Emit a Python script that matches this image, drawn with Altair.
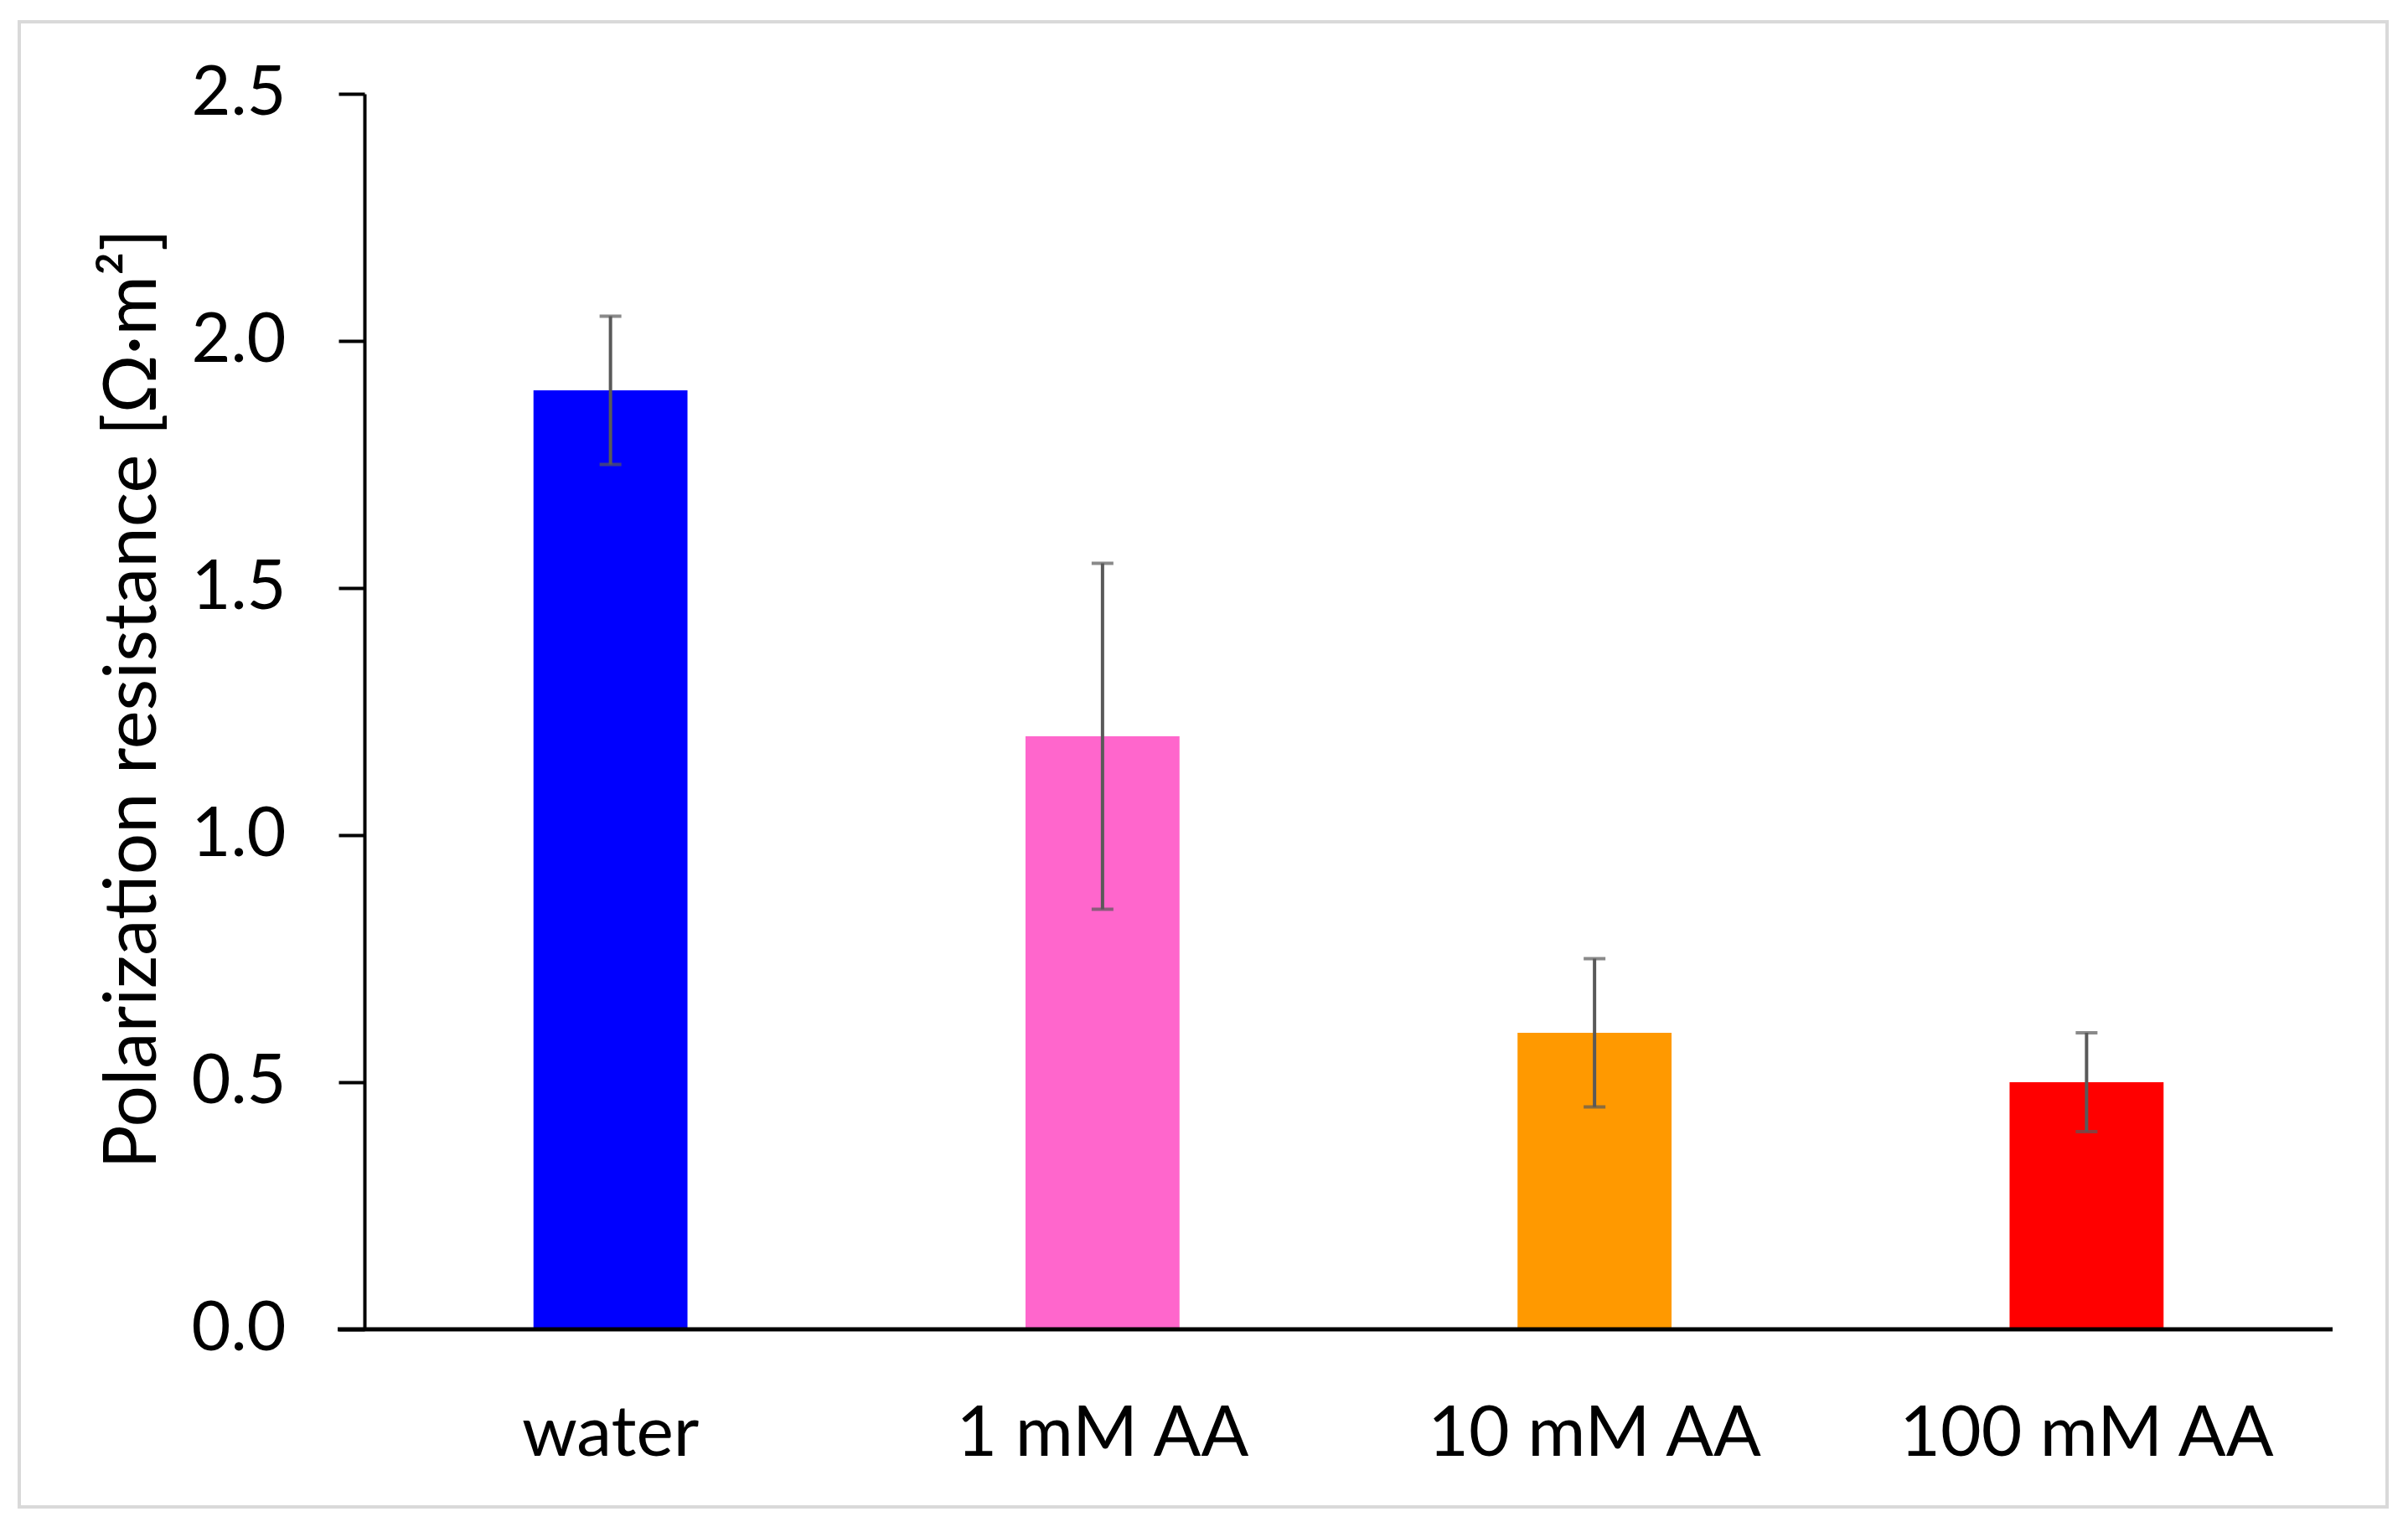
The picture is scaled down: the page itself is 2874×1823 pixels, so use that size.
import altair as alt
import pandas as pd

categories = ["water", "1 mM AA", "10 mM AA", "100 mM AA"]
resistance = [1.90, 1.20, 0.60, 0.50]
err_low = [1.75, 0.85, 0.45, 0.40]
err_high = [2.05, 1.55, 0.75, 0.60]
bar_colors = ["#0000FF", "#FF66CC", "#FF9900", "#FF0000"]
y_ticks = [0.0, 0.5, 1.0, 1.5, 2.0, 2.5]

df = pd.DataFrame({
    "cat": categories,
    "value": resistance,
    "low": err_low,
    "high": err_high,
})

W = 2349
H = 1475
FONT = "Lato"

x_enc = alt.X(
    "cat:N",
    sort=categories,
    scale=alt.Scale(paddingInner=0.687, paddingOuter=0.3435),
    axis=alt.Axis(
        title=None, ticks=False, tickSize=0, domain=False,
        labelAngle=0, labelFont=FONT, labelFontSize=84, labelColor="black",
        labelBaseline="alphabetic", labelPadding=150, labelLimit=0,
    ),
)

y_scale = alt.Scale(domain=[0, 2.5], nice=False)

bars = alt.Chart(df).mark_bar().encode(
    x=x_enc,
    y=alt.Y(
        "value:Q",
        scale=y_scale,
        axis=alt.Axis(
            title="Polarization resistance [Ω·m²]",
            values=y_ticks, format=".1f", grid=False,
            domainColor="black", domainWidth=4,
            tickColor="black", tickWidth=4, tickSize=31,
            labelFont=FONT, labelFontSize=81, labelColor="black",
            labelPadding=63, labelBaseline="middle",
            titleFont=FONT, titleFontSize=87, titleFontWeight="normal",
            titleColor="black", titleX=-250, titleY=722,
            titleBaseline="alphabetic", titleAlign="center", titleAngle=-90,
            titleLimit=0,
        ),
    ),
    color=alt.Color("cat:N", scale=alt.Scale(domain=categories, range=bar_colors), legend=None),
)

# error bar stems
stems = alt.Chart(df).mark_rule(color="#595959", strokeWidth=4).encode(
    x=alt.X("cat:N", sort=categories),
    y=alt.Y("low:Q", scale=y_scale),
    y2="high:Q",
)

caps_hi = alt.Chart(df).mark_tick(color="#595959", size=26, thickness=4).encode(
    x=alt.X("cat:N", sort=categories),
    y=alt.Y("high:Q", scale=y_scale),
)
caps_lo = alt.Chart(df).mark_tick(color="#595959", size=26, thickness=4).encode(
    x=alt.X("cat:N", sort=categories),
    y=alt.Y("low:Q", scale=y_scale),
)

# excel-style x axis line, running a bit past the y axis
x_line = alt.Chart(pd.DataFrame({"z": [0]})).mark_rule(color="black", strokeWidth=5).encode(
    x=alt.value(-32),
    x2=alt.value(W),
    y=alt.Y("z:Q", scale=y_scale),
)

# light grey frame round the figure
frame = alt.Chart(pd.DataFrame({"z": [0]})).mark_rect(
    fill=None, stroke="#d9d9d9", strokeWidth=4
).encode(
    x=alt.value(-412),
    x2=alt.value(2414),
    y=alt.value(-86),
    y2=alt.value(1687),
)

chart = alt.layer(frame, bars, stems, caps_hi, caps_lo, x_line).properties(
    width=W,
    height=H,
    autosize=alt.AutoSizeParams(type="none"),
    padding={"left": 427, "top": 104, "right": 80, "bottom": 220},
).configure(background="white").configure_view(stroke=None)

chart.save("out.html", embed_options={"renderer": "svg", "actions": False})
